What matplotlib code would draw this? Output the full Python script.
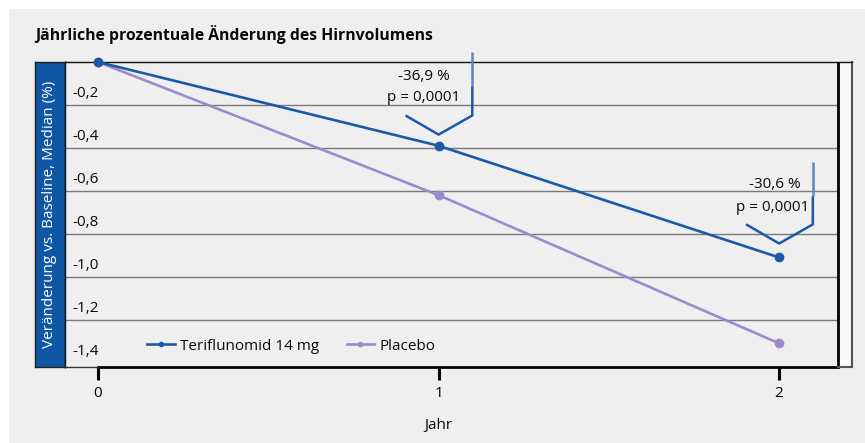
import matplotlib.pyplot as plt
from matplotlib.patches import Rectangle
from matplotlib.lines import Line2D

plt.rcParams['font.family'] = ['Open Sans', 'DejaVu Sans']

# Daten
jahre = [0, 1, 2]
teriflunomid = [0.0, -0.39, -0.91]
placebo = [0.0, -0.62, -1.31]
y_ticks = [-0.2, -0.4, -0.6, -0.8, -1.0, -1.2, -1.4]
y_labels = ['-0,2', '-0,4', '-0,6', '-0,8', '-1,0', '-1,2', '-1,4']
aenderung = ['-36,9 %', '-30,6 %']
p_werte = ['p = 0,0001', 'p = 0,0001']

W, H = 865, 443
blau = '#0f56a5'
c_teri = '#1a5aa7'
c_plac = '#9b8bcc'
bg = '#efefef'
txt = '#0a0a0a'

fig = plt.figure(figsize=(W / 100, H / 100), dpi=100, facecolor='white')

def fx(px):
    return px / W

def fy(py):
    return 1 - py / H

# grauer Hintergrund
fig.add_artist(Rectangle((fx(9), 0), 1 - fx(9), fy(9), transform=fig.transFigure,
                         facecolor=bg, edgecolor='none', zorder=-5))

# blauer Streifen links (eigene Achse)
ax_b = fig.add_axes([fx(35), fy(367), fx(30), fy(62) - fy(367)])
ax_b.set_facecolor(blau)
ax_b.set_xticks([])
ax_b.set_yticks([])
for s in ax_b.spines.values():
    s.set_color('#222222')
    s.set_linewidth(1)
ax_b.text(0.5, 0.5, 'Veränderung vs. Baseline, Median (%)', rotation=90, color='white',
          ha='center', va='center', fontsize=11, transform=ax_b.transAxes)

fig.text(fx(35), fy(35), 'Jährliche prozentuale Änderung des Hirnvolumens', fontsize=11.3,
         fontweight='bold', ha='left', va='center', color=txt)

# Hauptachse inkl. hellem Streifen rechts
x_links, x_rand, x_rechts = -0.097, 2.173, 2.214
ax = fig.add_axes([fx(65), fy(367), fx(852) - fx(65), fy(62) - fy(367)])
ax.set_facecolor(bg)
ax.set_zorder(2)
ax.set_xlim(x_links, x_rechts)
ax.set_ylim(-1.42, 0)

ax.axvspan(x_rand, x_rechts, color='#fafafa', zorder=0)
ax.axvline(x_rand, color='black', lw=2, zorder=5)

ax.hlines(y_ticks[:-1], x_links, x_rand, color='#7a7a7a', lw=1, zorder=1)
for v, lbl in zip(y_ticks, y_labels):
    ax.annotate(lbl, xy=(0, v), xycoords=('axes fraction', 'data'), xytext=(7, 4),
                textcoords='offset pixels', ha='left', va='bottom', fontsize=11, color=txt)
ax.set_yticks([])

ax.plot(jahre, placebo, color=c_plac, lw=1.9, marker='o', ms=6, clip_on=False, zorder=3)
ax.plot(jahre, teriflunomid, color=c_teri, lw=1.9, marker='o', ms=6, clip_on=False, zorder=4)

for s in ['left', 'top']:
    ax.spines[s].set_color('#111111')
    ax.spines[s].set_linewidth(1)
ax.spines['right'].set_color('#555555')
ax.spines['right'].set_linewidth(1.5)
ax.spines['bottom'].set_color('black')
ax.spines['bottom'].set_linewidth(2)
ax.spines['bottom'].set_bounds(0, x_rand)
ax.plot([x_links, 0], [-1.42, -1.42], color='#333333', lw=1, clip_on=False, zorder=5)
ax.plot([x_rand, x_rechts], [-1.42, -1.42], color='#555555', lw=1.5, clip_on=False, zorder=5)

ax.set_xticks(jahre)
ax.set_xticklabels([str(j) for j in jahre])
ax.tick_params(axis='x', length=9, width=2.2, pad=5, labelsize=11, colors='black')
fig.text(fx(438), fy(425), 'Jahr', ha='center', va='center', fontsize=11, color=txt)

# Klammern mit Beschriftung
def klammer(x, spitze, oben, hell_bis):
    ax.plot([x + 0.099, x + 0.099], [oben, hell_bis], color='#5a86c4', lw=1.8,
            clip_on=False, zorder=4, solid_capstyle='butt')
    ax.plot([x + 0.099, x + 0.099, x, x - 0.097], [hell_bis, spitze + 0.089, spitze, spitze + 0.089],
            color=c_teri, lw=1.8, clip_on=False, zorder=4, solid_capstyle='butt')

klammer(1, teriflunomid[1] + 0.052, 0.045, -0.114)
klammer(2, teriflunomid[2] + 0.065, -0.466, -0.625)

ax.text(0.957, -0.067, aenderung[0], ha='center', va='center', fontsize=11, color=txt, zorder=6)
ax.text(0.957, -0.166, p_werte[0], ha='center', va='center', fontsize=11, color=txt, zorder=6)
ax.text(1.988, -0.569, aenderung[1], ha='center', va='center', fontsize=11, color=txt, zorder=6)
ax.text(1.982, -0.676, p_werte[1], ha='center', va='center', fontsize=11, color=txt, zorder=6)

handles = [Line2D([], [], color=c_teri, lw=1.9, marker='o', ms=3),
           Line2D([], [], color=c_plac, lw=1.9, marker='o', ms=3)]
leg = fig.legend(handles, ['Teriflunomid 14 mg', 'Placebo'], loc='center left',
                 bbox_to_anchor=(fx(147), fy(346)), ncol=2, frameon=False, fontsize=11,
                 handlelength=1.8, handletextpad=0.35, columnspacing=1.8, borderpad=0, borderaxespad=0)
for t in leg.get_texts():
    t.set_color(txt)

fig.savefig('out.png', dpi=100, facecolor='white')
